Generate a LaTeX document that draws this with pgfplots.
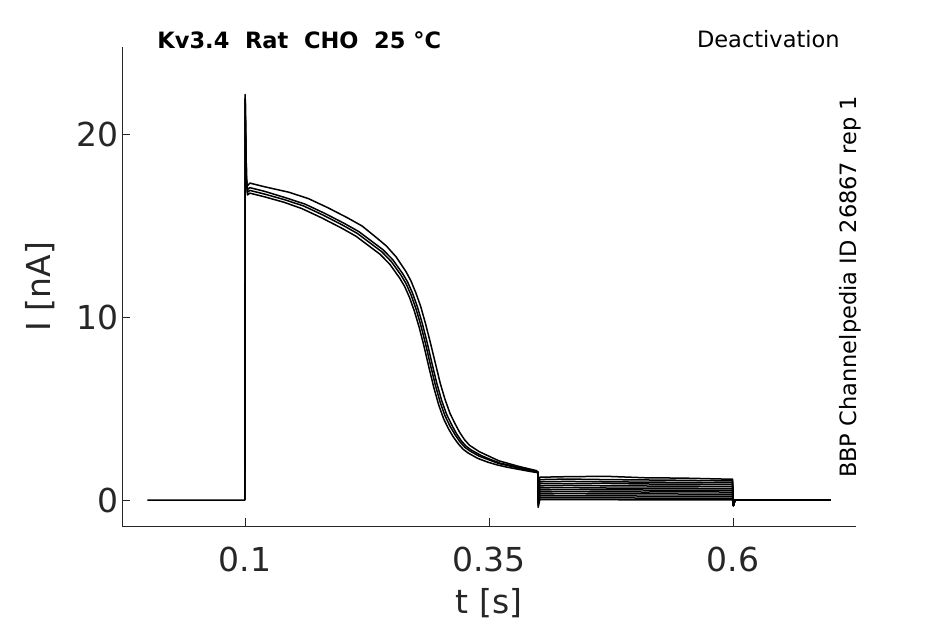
\documentclass[border=0pt]{standalone}
\usepackage{fontspec}
\setmainfont{DejaVu Sans}
\usepackage{pgfplots}
\pgfplotsset{compat=1.18}
\definecolor{axgray}{HTML}{262626}
\begin{document}
\begin{tikzpicture}
\useasboundingbox (0,0) rectangle (945bp,624bp);
\begin{axis}[
  at={(122bp,98bp)}, anchor=south west,
  scale only axis, width=734bp, height=479bp,
  xmin=-0.026, xmax=0.726, ymin=-1.42, ymax=24.8,
  axis x line*=bottom, axis y line*=left,
  axis line style={axgray, line width=0.7bp, -},
  xtick={0.1,0.35,0.6}, xticklabels={0.1,0.35,0.6},
  ytick={0,10,20}, yticklabels={0,10,20},
  tick style={axgray, line width=0.7bp},
  major tick length=8bp,
  tick align=inside,
  ticklabel style={font=\fontsize{33bp}{38bp}\selectfont, text=axgray},
  xticklabel style={yshift=-17bp},
  xlabel={t [s]}, ylabel={I [nA]},
  label style={font=\fontsize{33bp}{38bp}\selectfont, text=axgray},
  xlabel style={at={(axis description cs:0.5,-0.1608)}, anchor=center},
  ylabel style={at={(axis description cs:-0.1117,0.5)}, anchor=center},
  clip=false,
  cycle list={{black, mark=none}},
  every axis plot post/.append style={line width=1.5bp, line join=round},
]
% pulse traces
\addplot table {
0 0
0.0998 0
0.1002 22.2
0.1008 20.0
0.1015 17.8
0.1025 16.85
0.105 16.95
0.12 16.75
0.14 16.45
0.16 16.1
0.18 15.6
0.20 15.05
0.215 14.6
0.23 14.0
0.24 13.6
0.25 13.05
0.26 12.3
0.265 11.85
0.27 11.25
0.275 10.5
0.28 9.6
0.285 8.55
0.29 7.4
0.295 6.3
0.30 5.35
0.305 4.6
0.31 4.05
0.315 3.6
0.32 3.2
0.325 2.9
0.33 2.7
0.34 2.4
0.35 2.2
0.36 2.0
0.37 1.88
0.38 1.75
0.39 1.65
0.3995 1.55
};
\addplot table {
0.1 0
0.1002 21.9
0.1008 19.7
0.1015 17.5
0.1025 16.7
0.105 16.8
0.12 16.6
0.14 16.3
0.1585 15.95
0.1785 15.45
0.1985 14.9
0.2135 14.45
0.2285 13.85
0.2385 13.45
0.2485 12.9
0.2585 12.15
0.2635 11.7
0.2685 11.1
0.2735 10.35
0.2785 9.45
0.2835 8.4
0.2885 7.25
0.2935 6.15
0.2985 5.2
0.3035 4.45
0.3085 3.9
0.3135 3.45
0.3185 3.08
0.3235 2.78
0.3285 2.58
0.3385 2.28
0.3485 2.08
0.3585 1.92
0.3685 1.8
0.3785 1.7
0.3885 1.6
0.3995 1.5
};
\addplot table {
0.1 0
0.1002 22.0
0.1008 19.8
0.1015 17.6
0.1025 17.0
0.105 17.1
0.12 16.9
0.1415 16.55
0.1615 16.2
0.1815 15.7
0.2015 15.15
0.2165 14.7
0.2315 14.1
0.2415 13.7
0.2515 13.15
0.2615 12.4
0.2665 11.95
0.2715 11.35
0.2765 10.6
0.2815 9.7
0.2865 8.65
0.2915 7.5
0.2965 6.4
0.3015 5.45
0.3065 4.7
0.3115 4.15
0.3165 3.65
0.3215 3.25
0.3265 2.95
0.3315 2.75
0.3415 2.45
0.3515 2.22
0.3615 2.02
0.3715 1.9
0.3815 1.76
0.3995 1.58
};
\addplot table {
0.1025 17.2
0.105 17.35
0.12 17.15
0.145 16.85
0.165 16.5
0.185 16.0
0.205 15.45
0.22 15.0
0.235 14.35
0.245 13.9
0.255 13.3
0.265 12.5
0.27 12.0
0.275 11.35
0.28 10.6
0.285 9.65
0.29 8.6
0.295 7.5
0.3 6.4
0.305 5.5
0.31 4.75
0.315 4.2
0.32 3.7
0.325 3.3
0.33 3.0
0.34 2.65
0.35 2.4
0.36 2.15
0.37 2.0
0.38 1.85
0.39 1.72
0.3995 1.6
};
% deactivation traces
\addplot table {
0.3995 1.55
0.4 1.5
0.4004 0.85
0.402 1.25
0.43 1.28
0.47 1.30
0.51 1.22
0.55 1.20
0.59 1.15
0.5995 1.15
0.6003 -0.3
0.602 0
0.7 0
};
\addplot table {
0.3995 1.55
0.4 1.5
0.4004 0.72
0.402 1.12
0.43 1.15
0.47 1.12
0.51 1.10
0.55 1.08
0.59 1.05
0.5995 1.05
0.6003 -0.3
0.602 0
0.7 0
};
\addplot table {
0.3995 1.55
0.4 1.5
0.4004 0.6
0.402 1.0
0.43 1.02
0.47 1.00
0.51 0.98
0.55 0.97
0.59 0.95
0.5995 0.95
0.6003 -0.3
0.602 0
0.7 0
};
\addplot table {
0.3995 1.55
0.4 1.5
0.4004 0.5
0.402 0.9
0.43 0.90
0.47 0.91
0.51 0.88
0.55 0.87
0.59 0.86
0.5995 0.86
0.6003 -0.3
0.602 0
0.7 0
};
\addplot table {
0.3995 1.55
0.4 1.5
0.4004 0.38
0.402 0.78
0.43 0.80
0.47 0.78
0.51 0.77
0.55 0.76
0.59 0.75
0.5995 0.75
0.6003 -0.3
0.602 0
0.7 0
};
\addplot table {
0.3995 1.55
0.4 1.5
0.4004 0.27
0.402 0.67
0.43 0.68
0.47 0.66
0.51 0.66
0.55 0.65
0.59 0.64
0.5995 0.64
0.6003 -0.3
0.602 0
0.7 0
};
\addplot table {
0.3995 1.55
0.4 1.5
0.4004 0.16
0.402 0.56
0.43 0.57
0.47 0.56
0.51 0.55
0.55 0.55
0.59 0.54
0.5995 0.54
0.6003 -0.3
0.602 0
0.7 0
};
\addplot table {
0.3995 1.55
0.4 1.5
0.4004 0.05
0.402 0.45
0.43 0.46
0.47 0.45
0.51 0.44
0.55 0.45
0.59 0.44
0.5995 0.44
0.6003 -0.3
0.602 0
0.7 0
};
\addplot table {
0.3995 1.55
0.4 1.5
0.4004 -0.06
0.402 0.34
0.43 0.35
0.47 0.34
0.51 0.34
0.55 0.33
0.59 0.33
0.5995 0.33
0.6003 -0.3
0.602 0
0.7 0
};
\addplot table {
0.3995 1.55
0.4 1.5
0.4004 -0.17
0.402 0.23
0.43 0.23
0.47 0.23
0.51 0.22
0.55 0.22
0.59 0.22
0.5995 0.22
0.6003 -0.3
0.602 0
0.7 0
};
\addplot table {
0.3995 1.55
0.4 1.5
0.4004 -0.28
0.402 0.12
0.43 0.12
0.47 0.12
0.51 0.11
0.55 0.11
0.59 0.11
0.5995 0.11
0.6003 -0.3
0.602 0
0.7 0
};
\addplot table {
0.3995 1.55
0.4 1.5
0.4004 -0.4
0.402 0.02
0.43 0.02
0.47 0.02
0.51 0.01
0.55 0.01
0.59 0.01
0.5995 0.01
0.6003 -0.3
0.602 0
0.7 0
};
\node[anchor=west, inner sep=0pt, font=\fontsize{22.5bp}{26bp}\selectfont\bfseries] at (axis description cs:0.048,1.0146) {Kv3.4\ \ Rat\ \ CHO\ \ 25 °C};
\node[anchor=east, inner sep=0pt, font=\fontsize{22.5bp}{26bp}\selectfont] at (axis description cs:0.978,1.0167) {Deactivation};
\node[anchor=east, rotate=90, inner sep=0pt, font=\fontsize{22.5bp}{26bp}\selectfont] at (axis description cs:0.9918,0.8977) {BBP Channelpedia ID 26867 rep 1};
\end{axis}
\end{tikzpicture}
\end{document}
